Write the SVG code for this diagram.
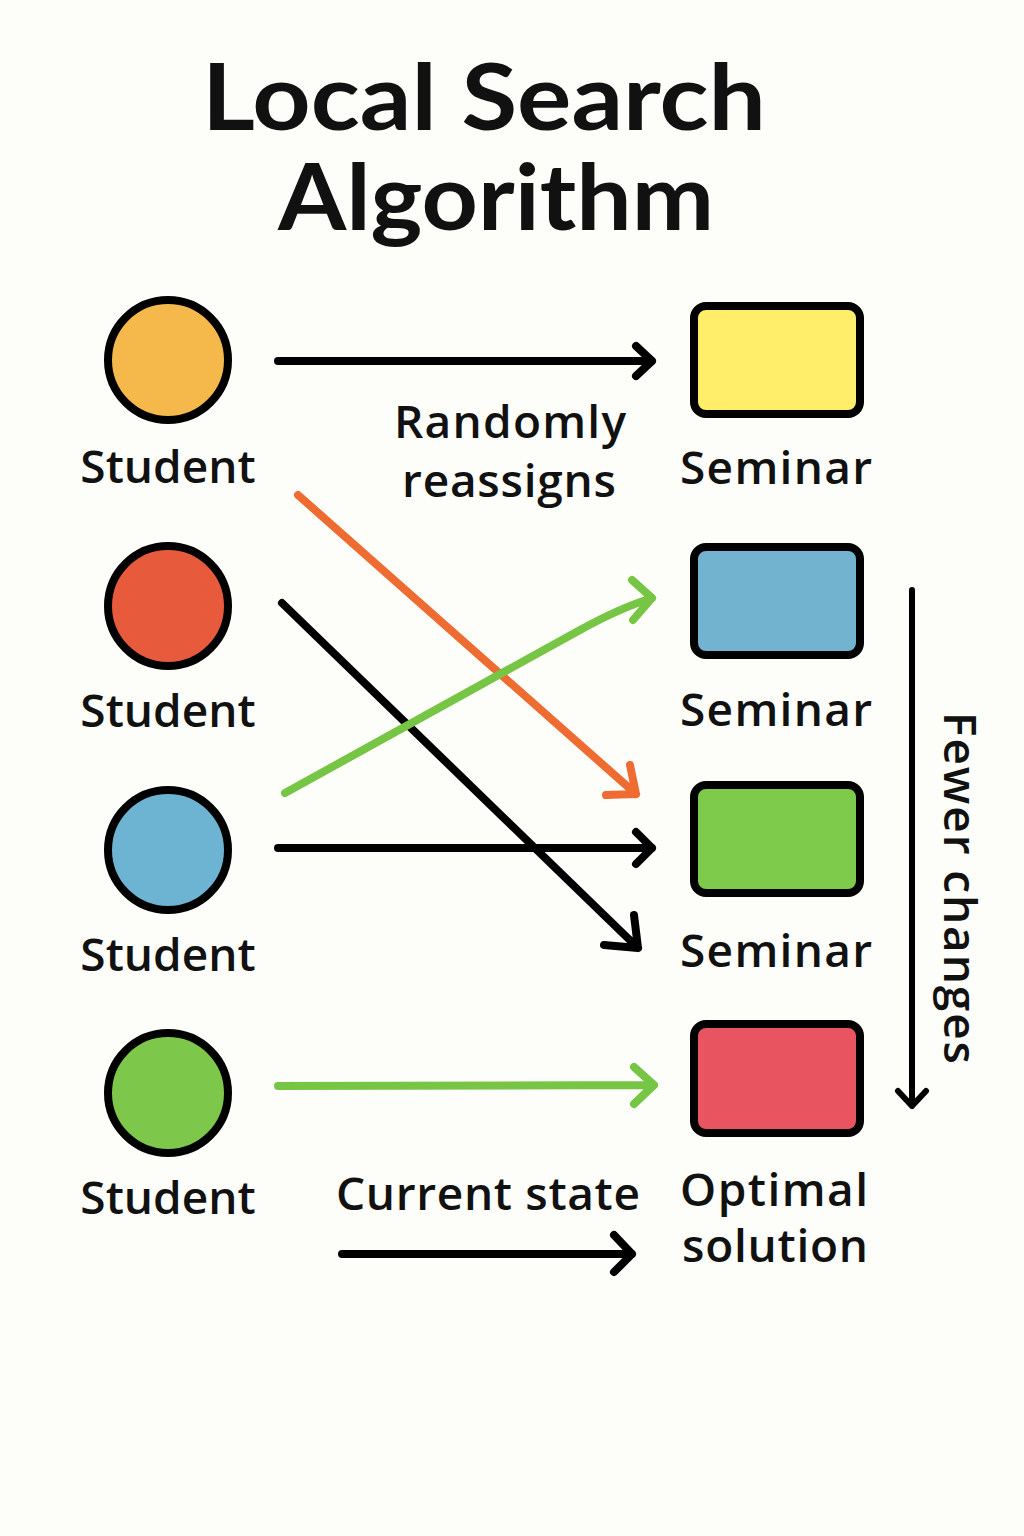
<svg xmlns="http://www.w3.org/2000/svg" width="1024" height="1536" viewBox="0 0 1024 1536">
<style>
.title{font-family:"Lato","Noto Sans",sans-serif;font-weight:700;font-size:92px;fill:#111}
.lbl{font-family:"Open Sans","Noto Sans",sans-serif;font-weight:600;font-size:46px;fill:#111}
.stu{stroke:#000;stroke-width:8}
.sem{stroke:#000;stroke-width:8}
.ln{fill:none;stroke-width:8;stroke-linecap:round;stroke-linejoin:round}
.k{stroke:#000}
.o{stroke:#EE6C32}
.g{stroke:#76C544}
</style>
<rect width="1024" height="1536" fill="#FDFDF9"/>
<g id="title">
<text class="title" x="484" y="130" text-anchor="middle" textLength="564" lengthAdjust="spacingAndGlyphs">Local Search</text>
<text class="title" x="496" y="230" text-anchor="middle" textLength="436" lengthAdjust="spacingAndGlyphs">Algorithm</text>
</g>
<g id="student1"><circle class="stu" cx="168" cy="360" r="60" fill="#F5B84A"/><text class="lbl" x="168" y="483" text-anchor="middle">Student</text></g>
<g id="student2"><circle class="stu" cx="168" cy="606" r="60" fill="#E85A3C"/><text class="lbl" x="168" y="727" text-anchor="middle">Student</text></g>
<g id="student3"><circle class="stu" cx="168" cy="850" r="60" fill="#6DB3D2"/><text class="lbl" x="168" y="971" text-anchor="middle">Student</text></g>
<g id="student4"><circle class="stu" cx="168" cy="1093" r="60" fill="#7DC84A"/><text class="lbl" x="168" y="1214" text-anchor="middle">Student</text></g>
<g id="seminar1"><rect class="sem" x="694" y="306" width="166" height="108" rx="12" fill="#FFEE6A"/><text class="lbl" x="776" y="484" text-anchor="middle" textLength="192" lengthAdjust="spacing">Seminar</text></g>
<g id="seminar2"><rect class="sem" x="694" y="547" width="166" height="108" rx="12" fill="#72B4D0"/><text class="lbl" x="776" y="726" text-anchor="middle" textLength="192" lengthAdjust="spacing">Seminar</text></g>
<g id="seminar3"><rect class="sem" x="694" y="785" width="166" height="108" rx="12" fill="#7ECB4C"/><text class="lbl" x="776" y="967" text-anchor="middle" textLength="192" lengthAdjust="spacing">Seminar</text></g>
<g id="optimal"><rect class="sem" x="694" y="1024" width="166" height="109" rx="12" fill="#E85460"/><text class="lbl" x="680" y="1206" textLength="188" lengthAdjust="spacing">Optimal</text><text class="lbl" x="682" y="1262" textLength="186" lengthAdjust="spacing">solution</text></g>
<g id="labels">
<text class="lbl" x="510" y="438" text-anchor="middle" textLength="232" lengthAdjust="spacing">Randomly</text>
<text class="lbl" x="509" y="497" text-anchor="middle" textLength="214" lengthAdjust="spacing">reassigns</text>
<text class="lbl" x="488" y="1210" text-anchor="middle" textLength="304" lengthAdjust="spacing">Current state</text>
<text class="lbl" transform="translate(944,888) rotate(90)" text-anchor="middle" textLength="352" lengthAdjust="spacing">Fewer changes</text>
</g>
<g id="connectors">
<path class="ln k" d="M278 361 L652 361 M636 346 L652 361 L636 376"/>
<path class="ln o" d="M298 495 L636 794 M630 765 L636 794 L606 795"/>
<path class="ln k" d="M282 603 L638 948 M634 915 L638 948 L604 945"/>
<path class="ln g" d="M285 793 L580 630 Q620 608 652 598 M632 580 L652 598 L633 620"/>
<path class="ln k" d="M278 848 L652 848 M636 832 L652 848 L636 864"/>
<path class="ln g" d="M278 1086 L654 1085 M634 1067 L654 1085 L634 1104"/>
<path class="ln k" d="M342 1254 L632 1254 M614 1235 L632 1254 L614 1272"/>
<path class="ln k" style="stroke-width:6" d="M912 590 L912 1106 M898 1091 L912 1106 L926 1091"/>
</g>
</svg>
